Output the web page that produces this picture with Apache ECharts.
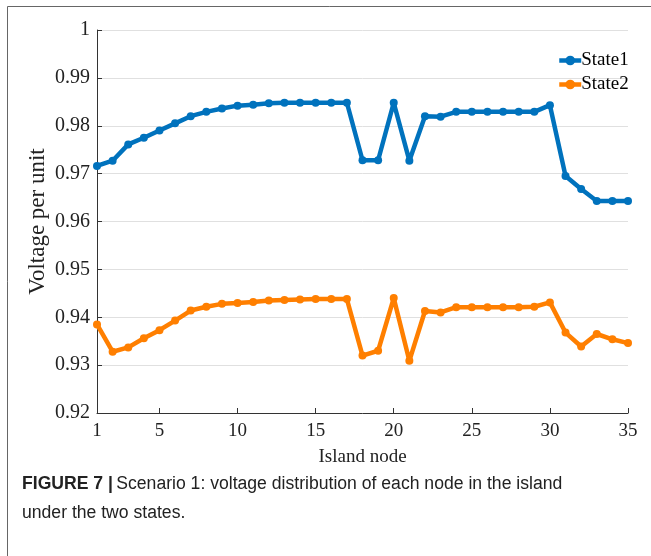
<!DOCTYPE html>
<html><head><meta charset="utf-8">
<script src="https://cdn.jsdelivr.net/npm/echarts@6/dist/echarts.min.js"></script>
<style>html,body{margin:0;padding:0;background:#fff}#c{width:651px;height:556px}</style>
</head><body><div id="c"></div>
<script>
const nodes = [1,2,3,4,5,6,7,8,9,10,11,12,13,14,15,16,17,18,19,20,21,22,23,24,25,26,27,28,29,30,31,32,33,34,35];
const state1 = [0.9716,0.9727,0.9761,0.9775,0.9790,0.9805,0.9820,0.9829,0.9836,0.9842,0.9844,0.9847,0.9848,0.9848,0.9848,0.9848,0.9848,0.9728,0.9728,0.9848,0.9727,0.9820,0.9819,0.9829,0.9829,0.9829,0.9829,0.9829,0.9829,0.9843,0.9695,0.9668,0.9643,0.9643,0.9643];
const state2 = [0.9385,0.9328,0.9337,0.9356,0.9373,0.9393,0.9414,0.9422,0.9428,0.9430,0.9432,0.9435,0.9436,0.9437,0.9438,0.9438,0.9438,0.9320,0.9330,0.9440,0.9309,0.9413,0.9410,0.9421,0.9421,0.9421,0.9421,0.9421,0.9422,0.9431,0.9368,0.9339,0.9365,0.9354,0.9346];
const xTicks = [1,5,10,15,20,25,30,35];
const seriesNames = ['State1','State2'];
const colors = ['#0072BD','#FF7F00'];

const chart = echarts.init(document.getElementById('c'), null, {renderer:'canvas'});
const font = 'Liberation Serif';
function mk(name, vals, color){
  return {name, type:'line', data: nodes.map((n,i)=>[n, vals[i]]), color,
    lineStyle:{width:4.5,color}, itemStyle:{color}, symbol:'circle', symbolSize:8, showSymbol:true, animation:false};
}
chart.setOption({
  animation:false,
  backgroundColor:'#fff',
  grid:{left:97,right:23,top:30,bottom:143,containLabel:false},
  legend:{orient:'vertical',left:552,top:46,itemGap:5,itemWidth:22,itemHeight:12,
    lineStyle:{width:4.5},
    textStyle:{fontFamily:font,fontSize:19,color:'#000',padding:[0,0,0,-5]},
    data:seriesNames},
  xAxis:{type:'value',min:1,max:35,
    name:'Island node',nameLocation:'middle',nameGap:35,
    nameTextStyle:{fontFamily:font,fontSize:19,color:'#222'},
    axisLine:{show:true,lineStyle:{color:'#333',width:1}},
    axisTick:{show:true,inside:true,length:5,customValues:xTicks,lineStyle:{color:'#333'}},
    axisLabel:{customValues:xTicks,fontFamily:font,fontSize:19,color:'#222',margin:9},
    splitLine:{show:false}},
  yAxis:{type:'value',min:0.92,max:1,interval:0.01,
    name:'Voltage per unit',nameLocation:'middle',nameGap:48,nameMoveOverlap:false,
    nameTextStyle:{fontFamily:font,fontSize:23,color:'#222'},
    axisLine:{show:true,lineStyle:{color:'#333',width:1}},
    axisTick:{show:true,inside:true,length:5,lineStyle:{color:'#333'}},
    axisLabel:{fontFamily:font,fontSize:20,color:'#222',margin:7,formatter:v=>String(+v.toFixed(2))},
    splitLine:{show:true,lineStyle:{color:'#e0e0e0',width:1}}},
  series:[mk(seriesNames[0],state1,colors[0]), mk(seriesNames[1],state2,colors[1])],
  graphic:[
    {type:'rect',shape:{x:7.5,y:6.5,width:700,height:600},style:{fill:null,stroke:'#666',lineWidth:1},silent:true,z:-1},
    {type:'text',left:22,top:470,style:{rich:{b:{fontFamily:'Liberation Sans',fontWeight:'bold',fontSize:17.6,fill:'#222'},n:{fontFamily:'Liberation Sans',fontSize:17.6,fill:'#222'}},
      text:'{b|FIGURE 7 |} {n|Scenario 1: voltage distribution of each node in the island}\n{n|under the two states.}',lineHeight:29}}
  ]
});
</script></body></html>
